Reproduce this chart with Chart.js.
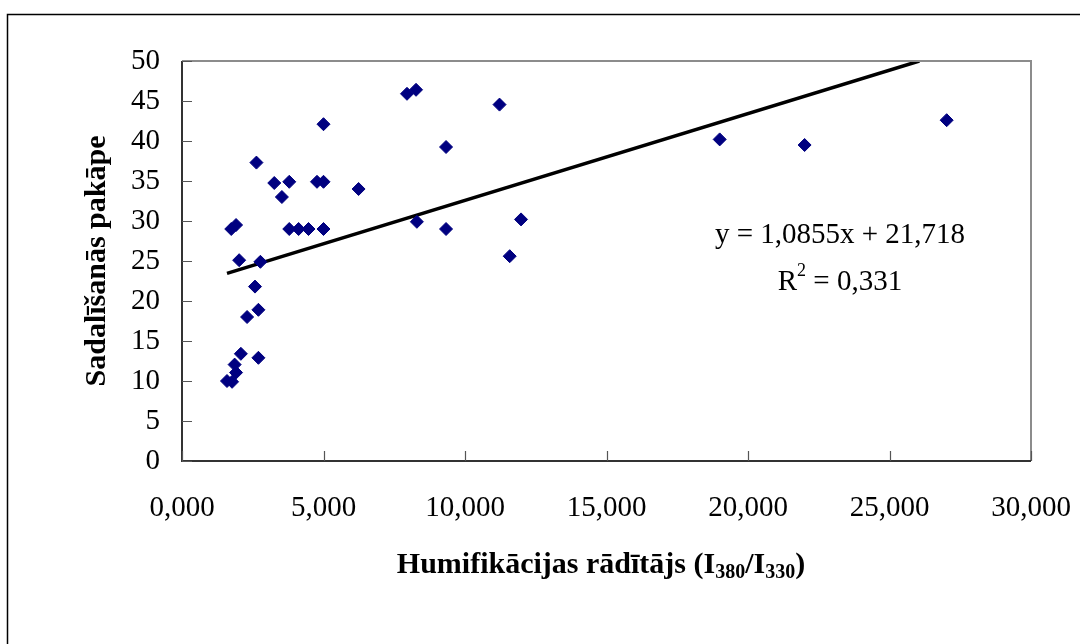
<!DOCTYPE html>
<html>
<head>
<meta charset="utf-8">
<script src="https://cdn.jsdelivr.net/npm/chart.js@4.4.1/dist/chart.umd.min.js"></script>
<style>
html,body{margin:0;padding:0;background:#fff;}
#wrap{width:1080px;height:644px;position:relative;}
</style>
</head>
<body>
<div id="wrap"><canvas id="c" width="1080" height="644"></canvas></div>
<script>
// Data
const humX = [7.95, 8.27, 5.00, 9.33, 2.63, 3.26, 3.79, 3.53, 4.77, 5.00, 6.24, 1.74, 1.91, 3.79, 4.12, 4.47, 5.00, 8.30, 9.33, 2.02, 2.77, 2.58, 2.70, 2.30, 2.08, 2.70, 1.86, 1.91, 1.59, 1.77, 11.22, 11.98, 11.58, 19.00, 22.00, 27.02];
const sadY = [45.9, 46.4, 42.1, 39.25, 37.3, 34.75, 34.9, 33.0, 34.9, 34.9, 34.0, 29.0, 29.5, 29.0, 29.0, 29.0, 29.0, 29.9, 29.0, 25.1, 24.9, 21.8, 18.9, 18.0, 13.4, 12.9, 12.05, 11.05, 10.0, 9.9, 44.55, 30.2, 25.6, 40.2, 39.5, 42.6];
const xTicks = [0, 5, 10, 15, 20, 25, 30];
const yTicks = [0, 5, 10, 15, 20, 25, 30, 35, 40, 45, 50];
const slope = 1.0855, intercept = 21.718;
const eqText = "y = 1,0855x + 21,718";
const r2Text = "0,331";

const points = humX.map((x, i) => ({x: x, y: sadY[i]}));
const xMin = Math.min(...humX);
const xEnd = (50 - intercept) / slope;
const trend = [{x: xMin, y: slope * xMin + intercept}, {x: xEnd, y: slope * xEnd + intercept}];

const SERIF = "'Liberation Serif', 'Times New Roman', serif";

const decor = {
  id: 'decor',
  beforeDraw(chart) {
    const ctx = chart.ctx;
    ctx.save();
    ctx.fillStyle = '#fff';
    ctx.fillRect(0, 0, chart.width, chart.height);
    ctx.strokeStyle = '#000';
    ctx.lineWidth = 1.5;
    ctx.beginPath();
    ctx.moveTo(1081, 14.5);
    ctx.lineTo(7.5, 14.5);
    ctx.lineTo(7.5, 650);
    ctx.stroke();
    ctx.restore();
  },
  afterDraw(chart) {
    const ctx = chart.ctx;
    const a = chart.chartArea;
    const xs = chart.scales.x, ys = chart.scales.y;
    ctx.save();
    ctx.strokeStyle = '#8c8c8c';
    ctx.lineWidth = 2;
    ctx.beginPath();
    ctx.moveTo(a.left, a.top);
    ctx.lineTo(a.right, a.top);
    ctx.lineTo(a.right, a.bottom);
    ctx.stroke();
    ctx.strokeStyle = '#333';
    ctx.lineWidth = 2;
    ctx.beginPath();
    ctx.moveTo(a.left, a.top);
    ctx.lineTo(a.left, a.bottom);
    ctx.lineTo(a.right, a.bottom);
    ctx.stroke();
    ctx.lineWidth = 1.2;
    ctx.strokeStyle = '#555';
    ctx.beginPath();
    yTicks.forEach(v => {
      const py = Math.round(ys.getPixelForValue(v)) + 0.5;
      ctx.moveTo(a.left, py); ctx.lineTo(a.left + 10, py);
    });
    xTicks.forEach(v => {
      const px = Math.round(xs.getPixelForValue(v)) + 0.5;
      ctx.moveTo(px, a.bottom); ctx.lineTo(px, a.bottom - 10);
    });
    ctx.stroke();
    ctx.fillStyle = '#000';
    ctx.textAlign = 'center';
    ctx.textBaseline = 'alphabetic';
    ctx.font = "29px " + SERIF;
    const cx = 840;
    ctx.fillText(eqText, cx, 243);
    const rMain = "R", rRest = " = " + r2Text;
    ctx.font = "29px " + SERIF;
    const wR = ctx.measureText(rMain).width;
    const wRest = ctx.measureText(rRest).width;
    ctx.font = "18px " + SERIF;
    const wSup = ctx.measureText("2").width;
    const total = wR + wSup + wRest;
    let sx = cx - total / 2;
    ctx.textAlign = 'left';
    ctx.font = "29px " + SERIF;
    ctx.fillText(rMain, sx, 290);
    ctx.font = "18px " + SERIF;
    ctx.fillText("2", sx + wR, 276);
    ctx.font = "29px " + SERIF;
    ctx.fillText(rRest, sx + wR + wSup, 290);
    const parts = [
      {t: "Humifikācijas rādītājs (I", sub: false},
      {t: "380", sub: true},
      {t: "/I", sub: false},
      {t: "330", sub: true},
      {t: ")", sub: false}
    ];
    const mainF = "bold 30px " + SERIF, subF = "bold 20px " + SERIF;
    let tw = 0;
    parts.forEach(p => { ctx.font = p.sub ? subF : mainF; p.w = ctx.measureText(p.t).width; tw += p.w; });
    let tx = 601 - tw / 2;
    const by = 573;
    parts.forEach(p => {
      ctx.font = p.sub ? subF : mainF;
      ctx.fillText(p.t, tx, p.sub ? by + 5 : by);
      tx += p.w;
    });
    ctx.translate(97, (a.top + a.bottom) / 2);
    ctx.rotate(-Math.PI / 2);
    ctx.textAlign = 'center';
    ctx.textBaseline = 'middle';
    ctx.font = "bold 30px " + SERIF;
    ctx.fillText("Sadalīšanās pakāpe", 0, 0);
    ctx.restore();
  }
};

new Chart(document.getElementById('c'), {
  type: 'scatter',
  data: {
    datasets: [
      {
        label: 'dati',
        data: points,
        pointStyle: 'rectRot',
        pointRadius: 6.5,
        pointHoverRadius: 6.5,
        backgroundColor: '#000080',
        borderColor: '#000080',
        borderWidth: 1,
        order: 1
      },
      {
        label: 'trend',
        type: 'line',
        data: trend,
        borderColor: '#000',
        borderWidth: 3.5,
        pointRadius: 0,
        fill: false,
        order: 2
      }
    ]
  },
  plugins: [decor],
  options: {
    responsive: false,
    animation: false,
    devicePixelRatio: 1,
    layout: {padding: {left: 0, top: 61, right: 49, bottom: 0}},
    plugins: {legend: {display: false}, tooltip: {enabled: false}},
    scales: {
      x: {
        type: 'linear',
        min: 0, max: 30,
        afterBuildTicks(s) { s.ticks = xTicks.map(v => ({value: v})); },
        afterFit(s) { s.height = 644 - 61 - 400; s.paddingLeft = 0; s.paddingRight = 0; },
        grid: {display: false, drawTicks: false},
        border: {display: false},
        ticks: {
          padding: 30,
          color: '#000',
          font: {family: SERIF, size: 29},
          maxRotation: 0,
          callback: v => v.toFixed(3).replace('.', ',')
        }
      },
      y: {
        type: 'linear',
        min: 0, max: 50,
        afterBuildTicks(s) { s.ticks = yTicks.map(v => ({value: v})); },
        afterFit(s) { s.width = 182; s.paddingTop = 0; s.paddingBottom = 0; },
        grid: {display: false, drawTicks: false},
        border: {display: false},
        ticks: {
          padding: 22,
          color: '#000',
          font: {family: SERIF, size: 29},
          callback: v => String(v)
        }
      }
    }
  }
});
</script>
</body>
</html>
